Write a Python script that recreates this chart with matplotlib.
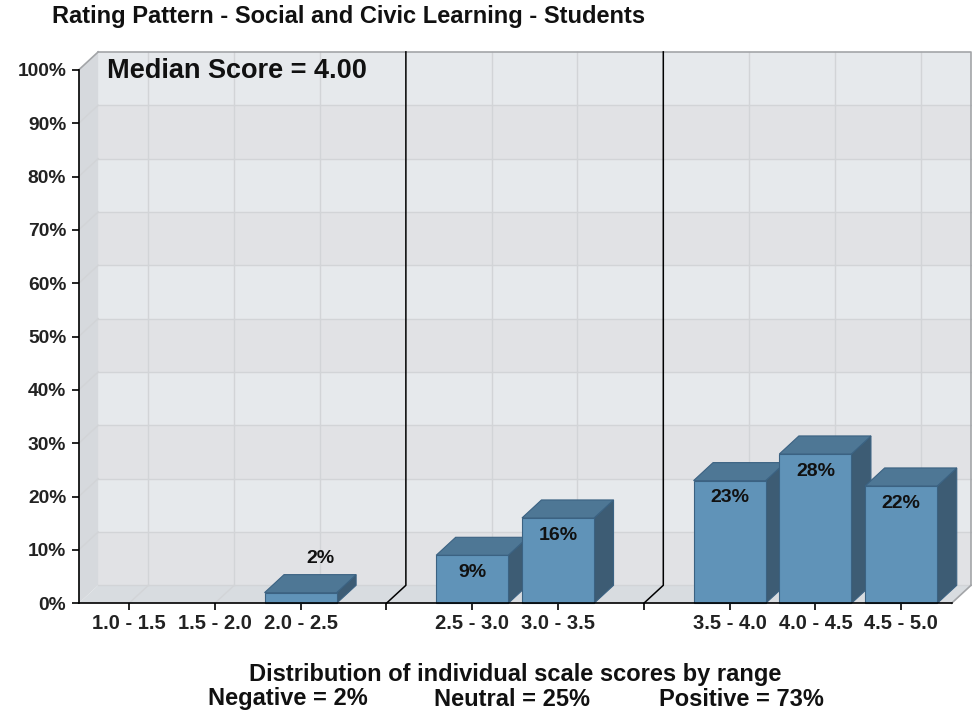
import numpy as np
import matplotlib
matplotlib.use("Agg")
import matplotlib.pyplot as plt
from matplotlib.patches import Polygon

plt.rcParams['font.family'] = ['Liberation Sans', 'DejaVu Sans']
plt.rcParams['font.weight'] = 'bold'

# ---- data ----
categories = ['1.0 - 1.5', '1.5 - 2.0', '2.0 - 2.5', '',
              '2.5 - 3.0', '3.0 - 3.5', '',
              '3.5 - 4.0', '4.0 - 4.5', '4.5 - 5.0']
values = [0, 0, 2, np.nan, 9, 16, np.nan, 23, 28, 22]
gap_slots = [3, 6]          # blank slots that hold the group separators
yticks = list(range(0, 101, 10))
median_score = 4.00
negative, neutral, positive = 2, 25, 73
title = "Rating Pattern - Social and Civic Learning - Students"

# ---- pseudo-3D geometry (data units) ----
XL, XR = -0.586, 9.586      # front floor extent
DX, DY = 0.227, 3.375       # depth offset (category units, percent)
BW = 0.84                   # bar width

FRONT = '#6093b8'
TOP = '#4e7795'
SIDE = '#3d5c74'
EDGE = '#3b6282'

fig = plt.figure(figsize=(9.72, 7.14), dpi=100)
ax = fig.add_axes([78.7 / 972, (714 - 603.3) / 714,
                   (971 - 78.7) / 972, (603.3 - 51.9) / 714])
ax.set_xlim(XL, XR + DX)
ax.set_ylim(0, 100 + DY)


def poly(pts, fc, ec='none', lw=0, z=1):
    ax.add_patch(Polygon(pts, closed=True, facecolor=fc, edgecolor=ec,
                         linewidth=lw, zorder=z, clip_on=False))


# back wall with alternating bands
for k in range(10):
    fc = '#e1e2e5' if k % 2 == 0 else '#e6e9ec'
    y0, y1 = yticks[k] + DY, yticks[k + 1] + DY
    poly([(XL + DX, y0), (XR + DX, y0), (XR + DX, y1), (XL + DX, y1)], fc, z=0.5)
# left wall and floor
poly([(XL, 0), (XL + DX, DY), (XL + DX, 100 + DY), (XL, 100)], '#d6d9dd', z=0.6)
poly([(XL, 0), (XR, 0), (XR + DX, DY), (XL + DX, DY)], '#d8dce0', z=0.6)

grid_kw = dict(color='#d2d4d7', lw=1, zorder=0.8, clip_on=False)
for t in yticks[1:-1]:
    ax.plot([XL + DX, XR + DX], [t + DY, t + DY], **grid_kw)
    ax.plot([XL, XL + DX], [t, t + DY], **grid_kw)
ax.plot([XL + DX, XR + DX], [DY, DY], **grid_kw)
for i in range(len(categories)):
    if i in gap_slots:
        continue
    ax.plot([i + DX, i + DX], [DY, 100 + DY], **grid_kw)
    ax.plot([i, i + DX], [0, DY], **grid_kw)

# outer edges of the box
edge_kw = dict(color='#a3a5a8', lw=1.2, zorder=0.9, clip_on=False)
ax.plot([XL + DX, XR + DX, XR + DX], [100 + DY, 100 + DY, DY], **edge_kw)
ax.plot([XL, XL + DX], [100, 100 + DY], **edge_kw)
ax.plot([XR, XR + DX], [0, DY], **edge_kw)

# group separators
for g in gap_slots:
    ax.plot([g + DX, g + DX, g], [100 + DY, DY, 0], color='black', lw=1.1,
            zorder=0.95, clip_on=False)

# bars
for i, v in enumerate(values):
    if not np.isfinite(v) or v <= 0:
        continue
    x0, x1 = i - BW / 2, i + BW / 2
    z = 2 + i * 0.1
    poly([(x1, 0), (x1 + DX, DY), (x1 + DX, v + DY), (x1, v)], SIDE, EDGE, 0.8, z)
    poly([(x0, v), (x1, v), (x1 + DX, v + DY), (x0 + DX, v + DY)], TOP, EDGE, 0.8, z)
    poly([(x0, 0), (x1, 0), (x1, v), (x0, v)], FRONT, EDGE, 0.8, z + 0.01)
    if v > 5:
        ax.text(i, v - 3.2, f"{v:.0f}%", ha='center', va='center',
                fontsize=14, fontweight='bold', color='#111111', zorder=5)
    else:
        ax.text(i + DX, v + DY + 3.0, f"{v:.0f}%", ha='center', va='center',
                fontsize=14, fontweight='bold', color='#111111', zorder=5)

ax.text(XL + DX + 0.1, 99.8, f"Median Score = {median_score:.2f}", ha='left',
        va='center', fontsize=19.5, fontweight='bold', color='#111111', zorder=5)

# axes
for s in ['top', 'right']:
    ax.spines[s].set_visible(False)
ax.spines['left'].set_bounds(0, 100)
ax.spines['bottom'].set_bounds(XL, XR)
for s in ['left', 'bottom']:
    ax.spines[s].set_linewidth(1.2)
    ax.spines[s].set_zorder(3)
ax.set_yticks(yticks)
ax.set_yticklabels([f"{t}%" for t in yticks])
ax.set_xticks(range(len(categories)))
ax.set_xticklabels(categories)
ax.tick_params(axis='both', length=5, width=1.2, colors='black')
ax.tick_params(axis='y', pad=4, labelsize=13.8)
ax.tick_params(axis='x', pad=3, labelsize=14.5)
for lab in ax.get_xticklabels() + ax.get_yticklabels():
    lab.set_fontweight('bold')
    lab.set_color('#222222')
ax.set_facecolor('none')

fig.text(52 / 972, 1 - 17 / 714, title, ha='left', va='center',
         fontsize=17, fontweight='bold', color='#111111')
fig.text(515 / 972, 1 - 674 / 714, "Distribution of individual scale scores by range",
         ha='center', va='center', fontsize=17, fontweight='bold', color='#111111')
for xc, txt in [(288, f"Negative = {negative}%"), (512, f"Neutral = {neutral}%"),
                (741, f"Positive = {positive}%")]:
    fig.text(xc / 972, 1 - 699 / 714, txt, ha='center', va='center',
             fontsize=17, fontweight='bold', color='#111111')

fig.savefig("out.png", dpi=100)
